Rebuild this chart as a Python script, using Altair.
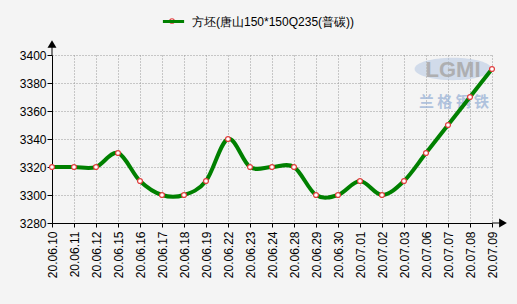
import altair as alt
import pandas as pd

dates = ["20.06.10", "20.06.11", "20.06.12", "20.06.15", "20.06.16", "20.06.17",
         "20.06.18", "20.06.19", "20.06.22", "20.06.23", "20.06.24", "20.06.28",
         "20.06.29", "20.06.30", "20.07.01", "20.07.02", "20.07.03", "20.07.06",
         "20.07.07", "20.07.08", "20.07.09"]
prices = [3320, 3320, 3320, 3330, 3310, 3300, 3300, 3310, 3340, 3320, 3320,
          3320, 3300, 3300, 3310, 3300, 3310, 3330, 3350, 3370, 3390]
series_name = "方坯(唐山150*150Q235(普碳))"
y_ticks = [3280, 3300, 3320, 3340, 3360, 3380, 3400]

df = pd.DataFrame({"date": dates, "price": prices, "series": [series_name] * len(dates)})

FONT = "Liberation Sans"
W, H = 440, 168

x_enc = alt.X("date:O", sort=None, scale=alt.Scale(type="point", padding=0),
              axis=alt.Axis(title=None, labelAngle=270, labelFontSize=12, labelFont=FONT,
                            labelColor="black", labelPadding=4, labelAlign="right",
                            labelBaseline="middle", grid=True, gridDash=[1, 2],
                            gridColor="#999999", gridWidth=1, domainColor="black",
                            tickColor="black", tickSize=4, labelOverlap=False))
y_enc = alt.Y("price:Q", scale=alt.Scale(domain=[3280, 3400], nice=False, zero=False),
              axis=alt.Axis(title=None, values=y_ticks, format="d", labelFontSize=12,
                            labelFont=FONT, labelColor="black", labelPadding=1, grid=True,
                            gridDash=[1, 2], gridColor="#999999", gridWidth=1,
                            domainColor="black", tickColor="black", tickSize=5))

line = alt.Chart(df).mark_line(interpolate="cardinal", strokeWidth=4).encode(
    x=x_enc, y=y_enc,
    color=alt.Color("series:N", scale=alt.Scale(range=["#008000"]),
                    legend=alt.Legend(title=None, orient="none", legendX=109, legendY=-46,
                                      symbolType="stroke", symbolStrokeWidth=3,
                                      symbolSize=450, labelFontSize=12, labelFont=FONT,
                                      labelColor="black", labelLimit=0, symbolOffset=0,
                                      labelOffset=6))
)
pts = alt.Chart(df).mark_point(filled=True, fill="white", stroke="#e03c3c", size=24,
                               strokeWidth=1.2, opacity=1).encode(x=x_enc, y=y_enc)

one = pd.DataFrame({"a": [0]})
legend_dot = alt.Chart(one).mark_point(filled=True, fill="white", stroke="#e03c3c",
                                       size=20, strokeWidth=1.2, opacity=1).encode(
    x=alt.value(120), y=alt.value(-34))
ellipse = alt.Chart(one).mark_point(
    shape="M-1,0A1,0.29,0,1,0,1,0A1,0.29,0,1,0,-1,0Z", filled=True,
    fill="#b4c6e2", opacity=0.55, size=5900).encode(x=alt.value(401), y=alt.value(14))
logo = alt.Chart(one).mark_text(text="LGMI", fontSize=22, fontWeight="bold",
                                font=FONT, color="#a8a8a8", opacity=0.85).encode(
    x=alt.value(401), y=alt.value(15))
cn = alt.Chart(one).mark_text(text="兰 格 钢 铁", fontSize=15, font="Noto Sans CJK SC",
                              fontWeight="bold", color="#9fb6d8", opacity=0.8).encode(
    x=alt.value(402), y=alt.value(47))

yext = alt.Chart(one).mark_rule(color="black").encode(
    x=alt.value(0), y=alt.value(-9), y2=alt.value(0))
xext = alt.Chart(one).mark_rule(color="black").encode(
    x=alt.value(W), x2=alt.value(W + 8), y=alt.value(H))
yarrow = alt.Chart(one).mark_point(shape="triangle-up", filled=True, color="black",
                                   size=80, opacity=1).encode(
    x=alt.value(0), y=alt.value(-11))
xarrow = alt.Chart(one).mark_point(shape="triangle-right", filled=True, color="black",
                                   size=80, opacity=1).encode(
    x=alt.value(W + 11), y=alt.value(H))

chart = alt.layer(ellipse, logo, cn, line, pts, legend_dot, yext, xext, yarrow,
                  xarrow).properties(
    width=W, height=H,
    padding={"left": 52, "top": 55, "right": 25, "bottom": 81},
    autosize=alt.AutoSizeParams(type="none")
).configure(background="#f4f4f4").configure_view(stroke=None)

chart.save("out.html", embed_options={"renderer": "svg", "actions": False})
